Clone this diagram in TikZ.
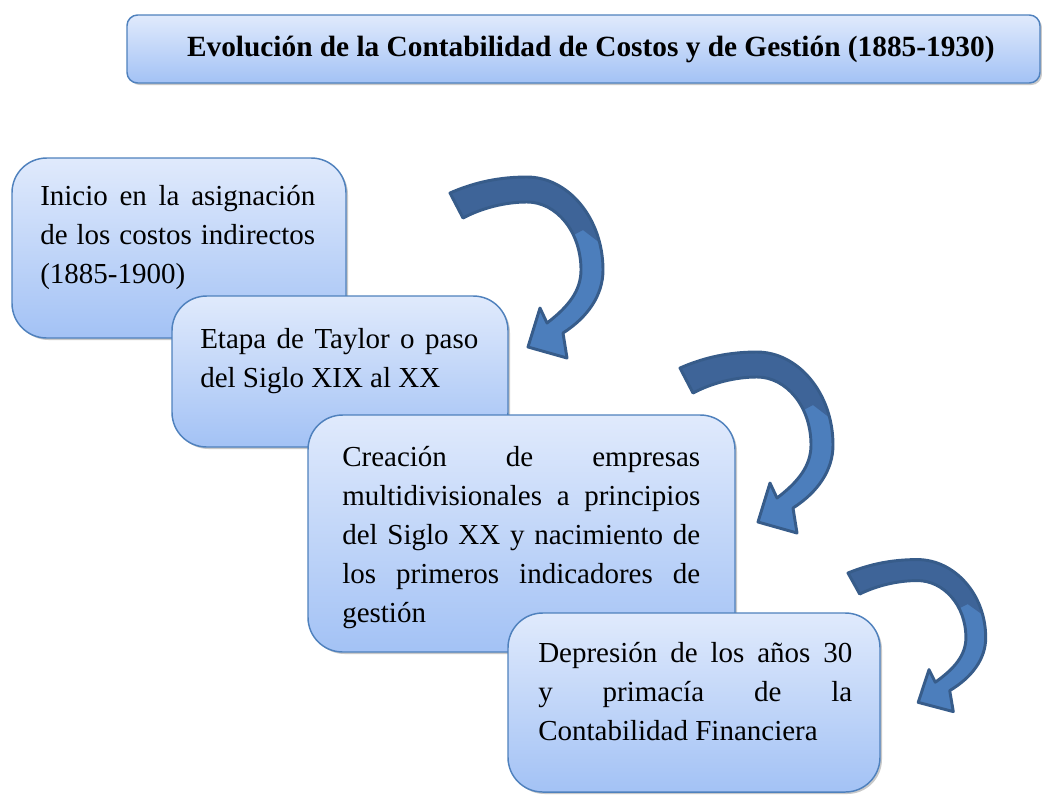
\documentclass[tikz,border=0pt]{standalone}
\usepackage{fontspec}
\setmainfont{Liberation Serif}
\usetikzlibrary{shadows}

\definecolor{boxtop}{RGB}{224,234,252}
\definecolor{boxbot}{RGB}{163,194,245}
\definecolor{boxline}{RGB}{79,129,189}
\definecolor{arrowdark}{RGB}{62,100,152}
\definecolor{arrowlight}{RGB}{76,126,188}
\definecolor{arrowline}{RGB}{55,92,138}

\tolerance=10000

\tikzset{
  stage/.style={draw=boxline, line width=1.1pt, rounded corners=26pt,
    top color=boxtop, bottom color=boxbot, inner sep=0pt,
    drop shadow={shadow xshift=1.5pt, shadow yshift=-1.5pt, opacity=.3, fill=black!70}},
  stagetext/.style={anchor=north west, inner sep=0pt, align=justify,
    font=\fontsize{21.75}{29.25}\selectfont},
  titlebox/.style={stage, rounded corners=8pt,
    font=\bfseries\fontsize{22}{26}\selectfont}
}

% curved block arrow, origin at the upper corner of its tail
\newcommand{\arrowpath}{(0,0) .. controls (25,-11) and (50,-16) .. (77,-16)
  .. controls (118,-16) and (153,25) .. (153,77)
  .. controls (153,102) and (138,124) .. (113,140)
  -- (117,165) -- (78,154) -- (90,115) -- (97,130)
  .. controls (118,114) and (131,98) .. (131,77)
  .. controls (131,38) and (106,9) .. (77,9)
  .. controls (55,9) and (32,15) .. (13,25) -- cycle}
\newcommand{\turnarrow}[3]{%
  \begin{scope}[shift={(#1,#2)}, #3]
    \fill[arrowlight] \arrowpath;
    \begin{scope}
      \clip \arrowpath;
      \fill[arrowdark] (-30,-40) -- (220,-40) -- (220,62) -- (150,50)
        -- (133,37) -- (90,60) -- (-30,60) -- cycle;
    \end{scope}
    \draw[arrowline, line width=2.2pt, line join=round] \arrowpath;
  \end{scope}}

\begin{document}
\begin{tikzpicture}[x=0.75pt, y=-0.75pt]
  \useasboundingbox (0,0) rectangle (1042,794);

  % Title
  \node[titlebox, minimum width=684.75pt, minimum height=51pt] (title) at (583.5,49)
    {\hspace*{11pt}Evolución de la Contabilidad de Costos y de Gestión (1885-1930)};

  % Stages
  \node[stage, minimum width=250.5pt, minimum height=135pt] (box1) at (179,248) {};
  \node[stagetext, text width=206.25pt] (t1) at (40,177.7)
    {\strut Inicio en la asignación\linebreak de los costos indirectos\linebreak (1885-1900)};

  \node[stage, minimum width=252pt, minimum height=113.25pt] (box2) at (340,371.5) {};
  \node[stagetext, text width=208.5pt] (t2) at (200,320.7)
    {\strut Etapa de Taylor o paso\linebreak del Siglo XIX al XX};

  \node[stage, minimum width=320.25pt, minimum height=177.75pt] (box3) at (521.5,533.5) {};
  \node[stagetext, text width=268.5pt] (t3) at (342,439)
    {\strut Creación de empresas\linebreak multidivisionales a principios\linebreak
     del Siglo XX y nacimiento de\linebreak los primeros indicadores de\linebreak gestión};

  \node[stage, minimum width=279pt, minimum height=134.25pt] (box4) at (694,702.5) {};
  \node[stagetext, text width=235.5pt] (t4) at (538,634.7)
    {\strut Depresión de los años 30\linebreak y primacía de la\linebreak Contabilidad Financiera};

  % Arrows
  \turnarrow{450}{193}{}
  \turnarrow{680}{368}{}
  \turnarrow{848}{573}{xscale=0.9, yscale=0.84}
\end{tikzpicture}
\end{document}
